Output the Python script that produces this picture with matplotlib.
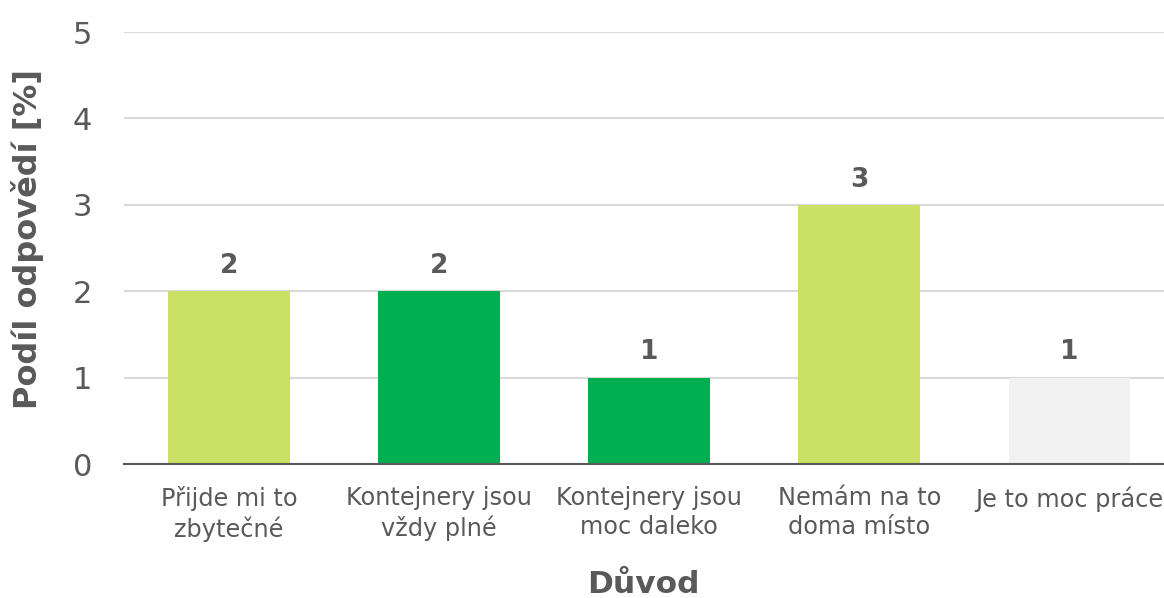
import numpy as np
import matplotlib
matplotlib.use("Agg")
from matplotlib import pyplot as plt

# data
kategorie = ["Přijde mi to\nzbytečné", "Kontejnery jsou\nvždy plné", "Kontejnery jsou\nmoc daleko",
             "Nemám na to\ndoma místo", "Je to moc práce"]
hodnoty = [2, 2, 1, 3, 1]
barvy = ["#CBE165", "#00B050", "#00B050", "#CBE165", "#F2F2F2"]

text_col = "#595959"
plt.rcParams["font.family"] = ["DejaVu Sans"]

fig = plt.figure(figsize=(11.64, 5.98), dpi=100)
ax = fig.add_axes([124 / 1164, 1 - 464 / 598, 1 - 124 / 1164, (464 - 32) / 598])

x = np.arange(len(kategorie))
ax.bar(x, hodnoty, width=0.58, color=barvy, zorder=2)

for xi, v in zip(x, hodnoty):
    ax.text(xi, v + 0.21, str(v), ha="center", va="baseline", fontsize=19,
            fontweight="bold", color=text_col)

ax.set_ylim(0, 5)
ax.set_xlim(-0.5, 4.45)
ax.set_yticks(range(6))
ax.yaxis.grid(True, color="#D9D9D9", linewidth=1.5, zorder=0)
ax.set_axisbelow(True)

for s in ["top", "right", "left"]:
    ax.spines[s].set_visible(False)
ax.spines["bottom"].set_color("#595959")
ax.spines["bottom"].set_linewidth(1.5)

ax.set_xticks(x)
ax.set_xticklabels(kategorie, fontsize=17.3, color=text_col, linespacing=1.25)
ax.tick_params(axis="x", length=0, pad=16)
ax.tick_params(axis="y", length=0, pad=23, labelsize=22, labelcolor=text_col)

ax.set_ylabel("Podíl odpovědí [%]", fontsize=23, fontweight="bold", color=text_col)
ax.yaxis.set_label_coords(-0.077, 0.521)
ax.set_xlabel("Důvod", fontsize=22.5, fontweight="bold", color=text_col)
ax.xaxis.set_label_coords(0.499, -0.246)

fig.savefig("out.png", dpi=100)
